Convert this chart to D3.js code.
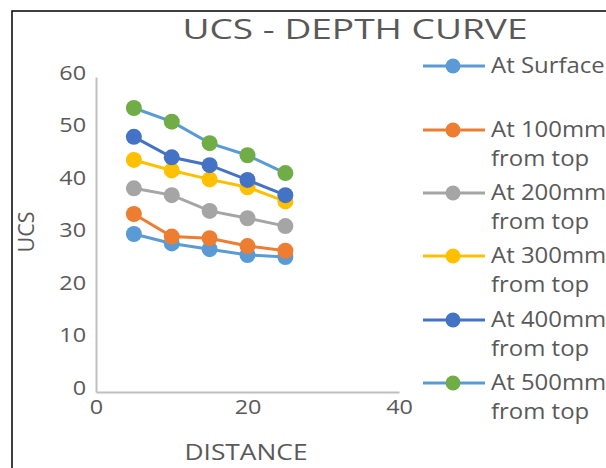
<!DOCTYPE html>
<html>
<head>
<meta charset="utf-8">
<script src="https://cdn.jsdelivr.net/npm/d3@7"></script>
<style>
  body { margin: 0; background: #fff; }
  text { font-family: "Open Sans", sans-serif; fill: #595959; }
</style>
</head>
<body>
<div id="chart"></div>
<script>
// chart data
var distances = [5, 10, 15, 20, 25];
var seriesNames = ["At Surface", "At 100mm from top", "At 200mm from top",
                   "At 300mm from top", "At 400mm from top", "At 500mm from top"];
var atSurface = [30.1, 28.3, 27.2, 26.1, 25.7];
var at100 = [33.9, 29.6, 29.3, 27.8, 26.9];
var at200 = [38.8, 37.5, 34.5, 33.1, 31.6];
var at300 = [44.2, 42.2, 40.5, 39.0, 36.3];
var at400 = [48.6, 44.7, 43.2, 40.4, 37.5];
var at500 = [54.1, 51.5, 47.4, 45.1, 41.7];
var yTicks = [0, 10, 20, 30, 40, 50, 60];
var xTicks = [0, 20, 40];

var allValues = [atSurface, at100, at200, at300, at400, at500];
var lineColors = ["#5b9bd5", "#ed7d31", "#a5a5a5", "#ffc000", "#4472c4", "#5b9bd5"];
var markerColors = ["#5b9bd5", "#ed7d31", "#a5a5a5", "#ffc000", "#4472c4", "#70ad47"];

var svgWidth = 606, svgHeight = 468;

// the source picture is a bit wider than normal text, so stretch glyphs
function stretch(sel, factor) {
    sel.each(function() {
        var w = this.getComputedTextLength();
        d3.select(this)
            .attr("textLength", w * factor)
            .attr("lengthAdjust", "spacingAndGlyphs");
    });
}

var svg = d3.select("#chart")
    .append("svg")
    .attr("width", svgWidth)
    .attr("height", svgHeight);

// outer chart border
svg.append("rect")
    .attr("x", 12).attr("y", 11)
    .attr("width", 620).attr("height", 480)
    .attr("fill", "none")
    .attr("stroke", "#000")
    .attr("stroke-width", 1.5);

// scales
var x = d3.scaleLinear().domain([0, 40]).range([96, 399]);
var y = d3.scaleLinear().domain([0, 60]).range([392, 77]);

// title
svg.append("text")
    .attr("x", 355).attr("y", 39)
    .attr("text-anchor", "middle")
    .style("font-size", "28px")
    .text("UCS - DEPTH CURVE")
    .attr("textLength", 345)
    .attr("lengthAdjust", "spacingAndGlyphs");

// axes
var xAxis = svg.append("g")
    .attr("transform", `translate(0, ${y(0)})`)
    .call(d3.axisBottom(x).tickValues(xTicks).tickSize(0).tickPadding(8));
var yAxis = svg.append("g")
    .attr("transform", `translate(${x(0)}, 0)`)
    .call(d3.axisLeft(y).tickValues(yTicks).tickSize(0).tickPadding(10));

[xAxis, yAxis].forEach(function(ax) {
    ax.select(".domain").attr("stroke", "#bfbfbf").attr("stroke-width", 2);
    ax.selectAll("text")
        .style("font-size", "20px")
        .style("font-family", "Open Sans, sans-serif")
        .attr("fill", "#595959");
    stretch(ax.selectAll("text"), 1.17);
});
yAxis.selectAll("text").attr("dy", "0.1em");

// axis titles
svg.append("text")
    .attr("x", 246).attr("y", 460)
    .attr("text-anchor", "middle")
    .style("font-size", "21px")
    .text("DISTANCE")
    .attr("textLength", 123)
    .attr("lengthAdjust", "spacingAndGlyphs");

svg.append("text")
    .attr("transform", "translate(34, 232) rotate(-90)")
    .attr("text-anchor", "middle")
    .style("font-size", "21px")
    .text("UCS")
    .attr("textLength", 41)
    .attr("lengthAdjust", "spacingAndGlyphs");

// lines and markers
var line = d3.line()
    .x(function(d, i) { return x(distances[i]); })
    .y(function(d) { return y(d); });

allValues.forEach(function(vals, s) {
    svg.append("path")
        .datum(vals)
        .attr("fill", "none")
        .attr("stroke", lineColors[s])
        .attr("stroke-width", 3)
        .attr("d", line);

    svg.selectAll(".pt" + s)
        .data(vals)
        .enter()
        .append("circle")
        .attr("cx", function(d, i) { return x(distances[i]); })
        .attr("cy", function(d) { return y(d); })
        .attr("r", 8)
        .attr("fill", markerColors[s]);
});

// legend
var legendRows = [66, 130, 193, 256, 320, 383];
seriesNames.forEach(function(name, s) {
    var g = svg.append("g").attr("transform", `translate(0, ${legendRows[s]})`);
    g.append("line")
        .attr("x1", 423).attr("x2", 485)
        .attr("stroke", lineColors[s])
        .attr("stroke-width", 3);
    g.append("circle")
        .attr("cx", 453).attr("r", 7.5)
        .attr("fill", markerColors[s]);
    var words = name.indexOf(" from top") > 0 ? [name.replace(" from top", ""), "from top"] : [name];
    words.forEach(function(w, k) {
        var t = g.append("text")
            .attr("x", 491).attr("y", 7 + k * 29)
            .style("font-size", "21px")
            .text(w);
        stretch(t, 1.14);
    });
});
</script>
</body>
</html>
